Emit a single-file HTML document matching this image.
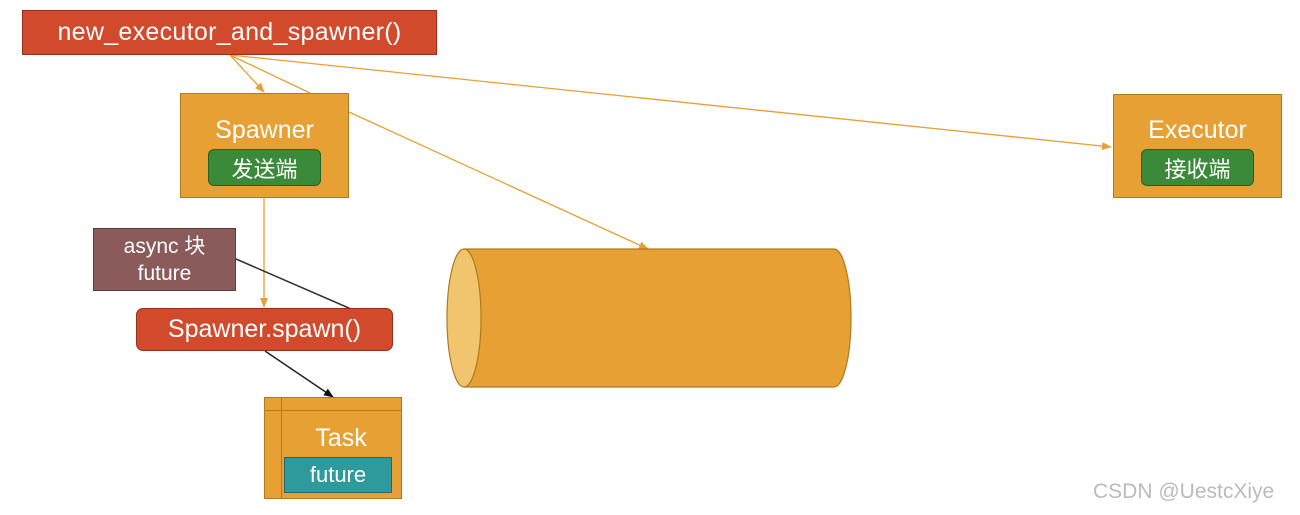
<!DOCTYPE html><html><head><meta charset="utf-8"><style>
body{margin:0;width:1300px;height:515px;background:#fff;overflow:hidden;position:relative;font-family:"Liberation Sans","Noto Sans CJK SC",sans-serif}
.b{position:absolute;box-sizing:border-box;color:#fff;display:flex;align-items:center;justify-content:center}
</style></head><body>
<svg width="1300" height="515" style="position:absolute;left:0;top:0">
<defs><marker id="a" markerWidth="10" markerHeight="10" refX="9" refY="5" orient="auto" markerUnits="userSpaceOnUse"><path d="M0,1 L10,5 L0,9z" fill="#e6a033"/></marker>
<marker id="k" markerWidth="10" markerHeight="10" refX="9" refY="5" orient="auto" markerUnits="userSpaceOnUse"><path d="M0,1 L10,5 L0,9z" fill="#111"/></marker></defs>
<g stroke="#e6a033" stroke-width="1.3" fill="none">
<line x1="230" y1="55" x2="264" y2="92" marker-end="url(#a)"/>
<line x1="230" y1="55" x2="310" y2="93"/>
<line x1="230" y1="55" x2="1111" y2="147" marker-end="url(#a)"/>
<line x1="349" y1="112" x2="648" y2="249" marker-end="url(#a)"/>
<line x1="264" y1="198" x2="264" y2="307" marker-end="url(#a)"/>
</g>
<line x1="236" y1="259" x2="358" y2="312" stroke="#333" stroke-width="1.5"/>
<line x1="265" y1="351" x2="333" y2="397" stroke="#222" stroke-width="1.5" marker-end="url(#k)"/>
<rect x="464" y="249" width="370" height="138" fill="#e6a033"/>
<path d="M464,249 L834,249 A17,69 0 0 1 834,387 L464,387" fill="#e6a033" stroke="#b07a20" stroke-width="1.2"/>
<ellipse cx="464" cy="318" rx="17" ry="69" fill="#f1c46e" stroke="#b07a20" stroke-width="1.2"/>
</svg>
<div class="b" style="left:22px;top:10px;width:415px;height:45px;background:#d24a2c;border:1px solid #9a2e18;font-size:25px;letter-spacing:0.3px">new_executor_and_spawner()</div>
<div class="b" style="left:180px;top:93px;width:169px;height:105px;background:#e6a033;border:1px solid #b07a20;flex-direction:column;justify-content:flex-start">
<div style="font-size:25px;margin-top:22px">Spawner</div>
<div style="margin-top:4px;width:113px;height:37px;background:#3a8a3a;border:1px solid #25602a;border-radius:6px;font-size:22px;display:flex;align-items:center;justify-content:center;box-sizing:border-box">发送端</div></div>
<div class="b" style="left:1113px;top:94px;width:169px;height:104px;background:#e6a033;border:1px solid #b07a20;flex-direction:column;justify-content:flex-start">
<div style="font-size:25px;margin-top:21px">Executor</div>
<div style="margin-top:4px;width:113px;height:37px;background:#3a8a3a;border:1px solid #25602a;border-radius:6px;font-size:22px;display:flex;align-items:center;justify-content:center;box-sizing:border-box">接收端</div></div>
<div class="b" style="left:93px;top:228px;width:143px;height:63px;background:#8a5b5a;border:1px solid #5e3b3a;font-size:21px;line-height:27px;text-align:center">async 块<br>future</div>
<div class="b" style="left:136px;top:308px;width:257px;height:43px;background:#d24a2c;border:1px solid #9a2e18;border-radius:7px;font-size:25px">Spawner.spawn()</div>
<div class="b" style="left:264px;top:397px;width:138px;height:102px;background:#e6a033;border:1px solid #b07a20;flex-direction:column;justify-content:flex-start">
<div style="position:absolute;left:16px;top:0;width:1px;height:100%;background:#b07a20"></div>
<div style="position:absolute;left:0;top:12px;width:100%;height:1px;background:#b07a20"></div>
<div style="font-size:25px;margin-top:26px;margin-left:16px">Task</div>
<div style="position:absolute;left:19px;top:59px;width:108px;height:36px;background:#2f9a9c;border:1px solid #1e6a6c;box-sizing:border-box;font-size:22px;display:flex;align-items:center;justify-content:center">future</div></div>
<div style="position:absolute;left:1093px;top:480px;font-size:21px;color:#bbb">CSDN @UestcXiye</div>
</body></html>
